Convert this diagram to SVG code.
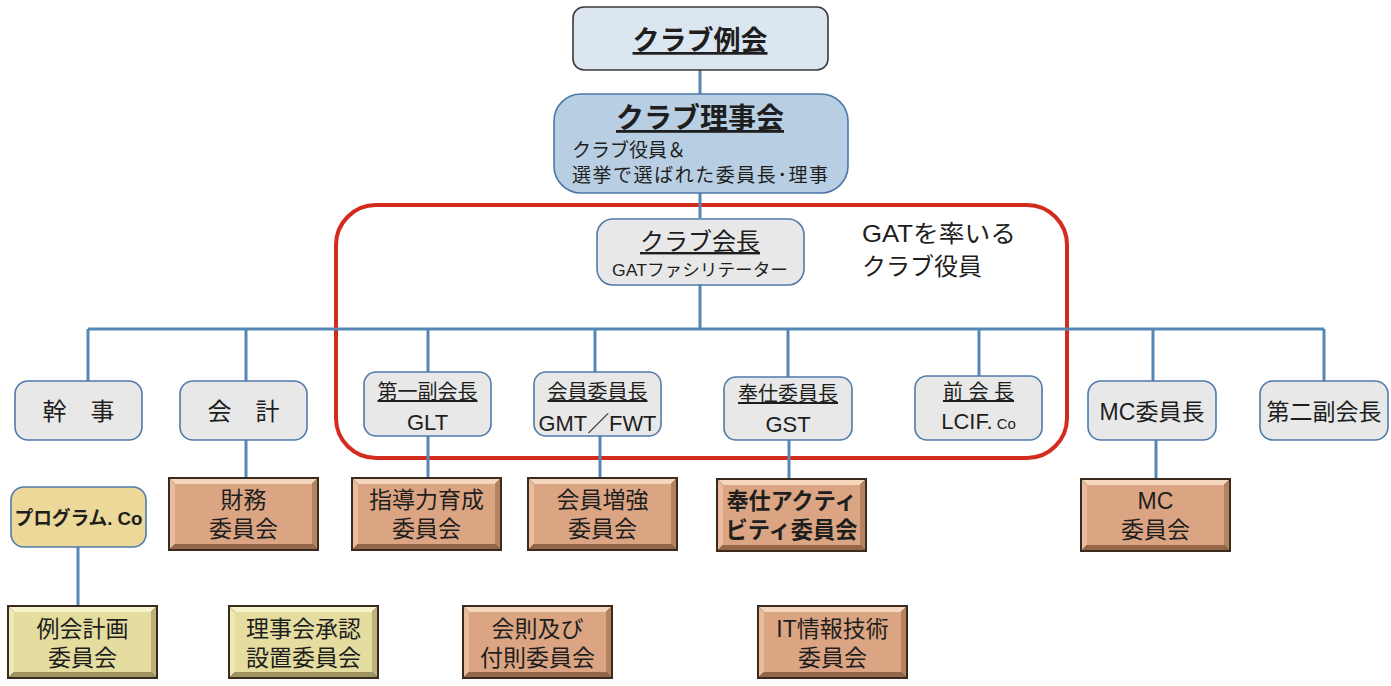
<svg xmlns="http://www.w3.org/2000/svg" xmlns:xlink="http://www.w3.org/1999/xlink" width="1391" height="686" viewBox="0 0 1391 686">
<style>
text{font-family:"Liberation Sans","Noto Sans CJK JP",sans-serif;fill:#1e1e1e;}
.c{text-anchor:middle;}
.u{text-decoration:underline;}
.node{fill:#e8e8e8;stroke:#4f7aab;stroke-width:1.6;}
.conn{fill:none;stroke:#5686b6;stroke-width:3;}
.ct{font-size:23px;text-anchor:middle;}
.t1{font-size:20px;text-anchor:middle;text-decoration:underline;}
.t2{font-size:22px;text-anchor:middle;}
</style>
<defs>
<g id="boxS">
<rect width="151" height="74" fill="#3b2a1e"/>
<polygon points="2,2 149,2 144,7 7,7" fill="#f3d6bb"/>
<polygon points="2,2 7,7 7,67 2,72" fill="#e8bc9c"/>
<polygon points="149,2 149,72 144,67 144,7" fill="#b5835f"/>
<polygon points="2,72 7,67 144,67 149,72" fill="#94664a"/>
<rect x="7" y="7" width="137" height="60" fill="#dba583"/>
</g>
<g id="boxK">
<rect width="151" height="74" fill="#3b2a1e"/>
<polygon points="2,2 149,2 144,7 7,7" fill="#f7f2cc"/>
<polygon points="2,2 7,7 7,67 2,72" fill="#eee8b4"/>
<polygon points="149,2 149,72 144,67 144,7" fill="#bdb27c"/>
<polygon points="2,72 7,67 144,67 149,72" fill="#9f9562"/>
<rect x="7" y="7" width="137" height="60" fill="#e4dd9f"/>
</g>
</defs>
<rect width="1391" height="686" fill="#ffffff"/>

<rect id="gat-frame" x="336" y="205" width="731" height="253" rx="40" fill="none" stroke="#d42b1f" stroke-width="4"/>
<text x="862" y="242" font-size="24" textLength="154" lengthAdjust="spacingAndGlyphs">GATを率いる</text>
<text x="862" y="275" font-size="24">クラブ役員</text>

<g id="connectors">
<path class="conn" d="M700,70V94M700,193V218M700,285V329M88,329H1324M88,329V381M246,329V381M428,329V372M595,329V372M788,329V377M979,329V376M1153,329V381M1324,329V381M246,440V477M428,436V477M600,436V477M789,440V478M1156,440V478M78,547V605"/>
</g>

<g id="club-meeting">
<rect x="573" y="7" width="255" height="63" rx="11" fill="#dce6f0" stroke="#3a3a3a" stroke-width="1.6"/>
<text x="700" y="50" class="c u" font-size="27" font-weight="bold">クラブ例会</text>
</g>
<g id="board">
<rect x="554" y="94" width="294" height="99" rx="27" fill="#b8cee2" stroke="#4b78a8" stroke-width="1.6"/>
<text x="700" y="128" class="c u" font-size="28" font-weight="bold">クラブ理事会</text>
<text x="572" y="157" font-size="19">クラブ役員＆</text>
<text x="572" y="182" font-size="19" textLength="256" lengthAdjust="spacing">選挙で選ばれた委員長･理事</text>
</g>
<g id="president">
<rect class="node" x="597" y="219" width="207" height="66" rx="16"/>
<text x="700" y="250" class="c u" font-size="24">クラブ会長</text>
<text x="700" y="276" class="c" font-size="17" textLength="176" lengthAdjust="spacingAndGlyphs">GATファシリテーター</text>
</g>

<g id="secretary">
<rect class="node" x="15" y="381" width="127" height="59" rx="13"/>
<text x="78.5" y="420" class="c" font-size="24">幹　事</text>
</g>
<g id="treasurer">
<rect class="node" x="180" y="381" width="127" height="59" rx="13"/>
<text x="243.5" y="420" class="c" font-size="24">会　計</text>
</g>
<g id="first-vp">
<rect class="node" x="364" y="372" width="127" height="64" rx="12"/>
<text x="427.5" y="399" class="t1">第一副会長</text>
<text x="427.5" y="430" class="t2">GLT</text>
</g>
<g id="membership-chair">
<rect class="node" x="534" y="372" width="127" height="64" rx="12"/>
<text x="597.5" y="399" class="t1">会員委員長</text>
<text x="597.5" y="431" class="t2" textLength="118" lengthAdjust="spacingAndGlyphs">GMT／FWT</text>
</g>
<g id="service-chair">
<rect class="node" x="724" y="377" width="128" height="63" rx="12"/>
<text x="788" y="401" class="t1">奉仕委員長</text>
<text x="788" y="432" class="t2">GST</text>
</g>
<g id="past-president">
<rect class="node" x="915" y="376" width="127" height="64" rx="12"/>
<text x="978.5" y="399" class="t1">前 会 長</text>
<text x="978.5" y="429" class="t2">LCIF.<tspan font-size="15"> Co</tspan></text>
</g>
<g id="mc-chair">
<rect class="node" x="1088" y="381" width="128" height="59" rx="13"/>
<text x="1152" y="420" class="c" font-size="23">MC委員長</text>
</g>
<g id="second-vp">
<rect class="node" x="1260" y="381" width="128" height="59" rx="13"/>
<text x="1324" y="420" class="c" font-size="23">第二副会長</text>
</g>

<g id="program-co">
<rect x="11" y="487" width="135" height="60" rx="13" fill="#ecd898" stroke="#4f7aab" stroke-width="1.6"/>
<text x="78.5" y="525" class="c" font-size="19" font-weight="bold" textLength="128" lengthAdjust="spacingAndGlyphs">プログラム. Co</text>
</g>
<g id="finance">
<use xlink:href="#boxS" x="168" y="477"/>
<text x="243.5" y="508" class="ct">財務</text>
<text x="243.5" y="537" class="ct">委員会</text>
</g>
<g id="leadership">
<use xlink:href="#boxS" x="351" y="477"/>
<text x="426.5" y="508" class="ct">指導力育成</text>
<text x="426.5" y="537" class="ct">委員会</text>
</g>
<g id="membership">
<use xlink:href="#boxS" x="527" y="477"/>
<text x="602.5" y="508" class="ct">会員増強</text>
<text x="602.5" y="537" class="ct">委員会</text>
</g>
<g id="service-activity">
<use xlink:href="#boxS" x="716" y="478"/>
<text x="791.5" y="509" class="ct" font-weight="bold" textLength="130" lengthAdjust="spacingAndGlyphs">奉仕アクティ</text>
<text x="791.5" y="538" class="ct" font-weight="bold" textLength="132" lengthAdjust="spacingAndGlyphs">ビティ委員会</text>
</g>
<g id="mc-committee">
<use xlink:href="#boxS" x="1080" y="478"/>
<text x="1155.5" y="509" class="ct">MC</text>
<text x="1155.5" y="538" class="ct">委員会</text>
</g>

<g id="meeting-plan">
<use xlink:href="#boxK" x="7" y="605"/>
<text x="82.5" y="637" class="ct">例会計画</text>
<text x="82.5" y="666" class="ct">委員会</text>
</g>
<g id="board-approval">
<use xlink:href="#boxK" x="228" y="605"/>
<text x="303.5" y="637" class="ct">理事会承認</text>
<text x="303.5" y="666" class="ct">設置委員会</text>
</g>
<g id="bylaws">
<use xlink:href="#boxS" x="462" y="605"/>
<text x="537.5" y="637" class="ct">会則及び</text>
<text x="537.5" y="666" class="ct">付則委員会</text>
</g>
<g id="it">
<use xlink:href="#boxS" x="757" y="605"/>
<text x="832.5" y="637" class="ct">IT情報技術</text>
<text x="832.5" y="666" class="ct">委員会</text>
</g>
</svg>
